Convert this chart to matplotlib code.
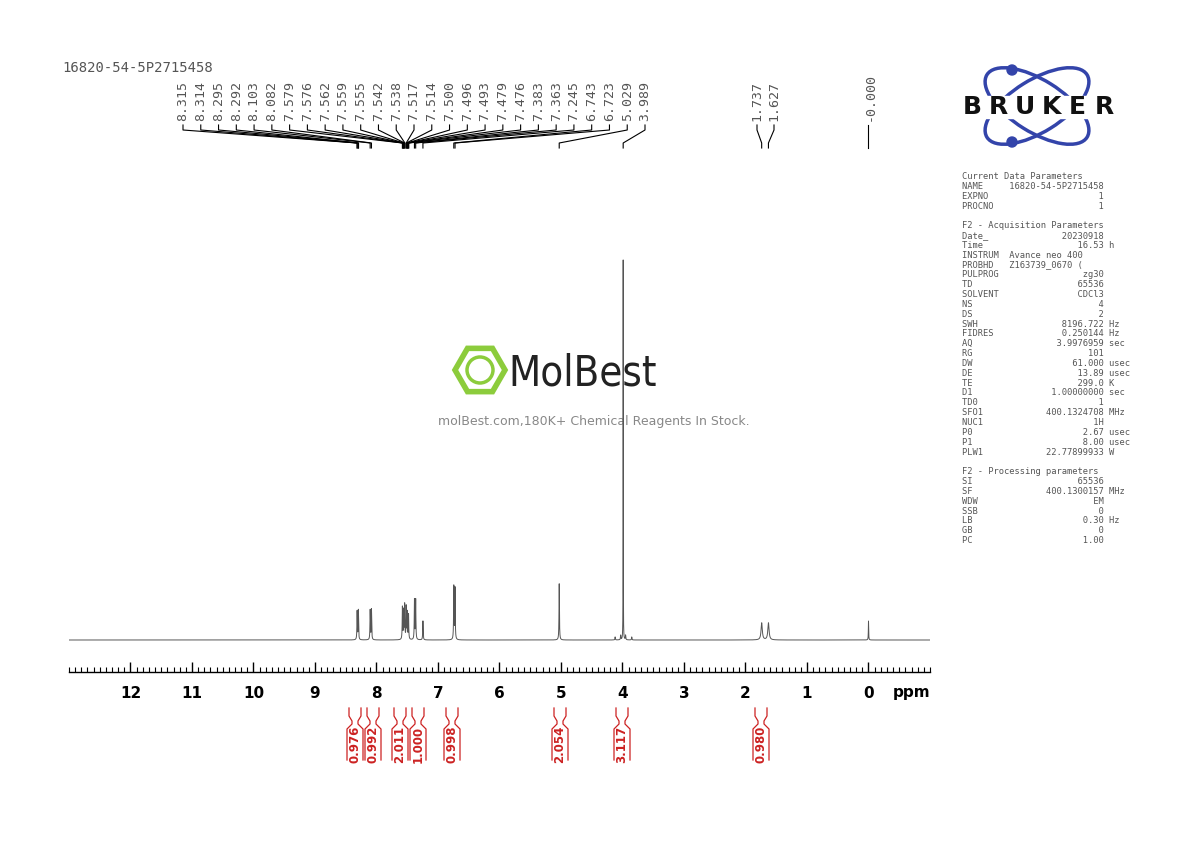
import numpy as np
import matplotlib
matplotlib.use("Agg")
import matplotlib.pyplot as plt
from matplotlib.patches import Ellipse, RegularPolygon, Circle

# ---- data ----
peak_ppm = [8.315, 8.295, 8.103, 8.082, 7.579, 7.559, 7.542, 7.517, 7.500, 7.479,
            7.383, 7.363, 7.245, 6.743, 6.723, 5.029, 3.989, 1.737, 1.627, 0.000,
            4.12, 3.85, 4.03, 3.95]
peak_h = [0.075, 0.078, 0.078, 0.080, 0.085, 0.075, 0.09, 0.085, 0.07, 0.065,
          0.105, 0.105, 0.05, 0.14, 0.135, 0.148, 1.0, 0.045, 0.045, 0.05,
          0.008, 0.008, 0.012, 0.012]
peak_w = [0.004]*16 + [0.0015] + [0.012, 0.012, 0.003] + [0.004]*4

shift_labels = ["8.315","8.314","8.295","8.292","8.103","8.082","7.579","7.576","7.562",
                "7.559","7.555","7.542","7.538","7.517","7.514","7.500","7.496","7.493",
                "7.479","7.476","7.383","7.363","7.245","6.743","6.723","5.029","3.989"]
shift_labels2 = ["1.737", "1.627"]
shift_label0 = "-0.000"

integ_vals = ["0.976", "0.992", "2.011", "1.000", "0.998", "2.054", "3.117", "0.980"]

params = """Current Data Parameters
NAME     16820-54-5P2715458
EXPNO                     1
PROCNO                    1

F2 - Acquisition Parameters
Date_              20230918
Time                  16.53 h
INSTRUM  Avance neo 400
PROBHD   Z163739_0670 (
PULPROG                zg30
TD                    65536
SOLVENT               CDCl3
NS                        4
DS                        2
SWH                8196.722 Hz
FIDRES             0.250144 Hz
AQ                3.9976959 sec
RG                      101
DW                   61.000 usec
DE                    13.89 usec
TE                    299.0 K
D1               1.00000000 sec
TD0                       1
SFO1            400.1324708 MHz
NUC1                     1H
P0                     2.67 usec
P1                     8.00 usec
PLW1            22.77899933 W

F2 - Processing parameters
SI                    65536
SF              400.1300157 MHz
WDW                      EM
SSB                       0
LB                     0.30 Hz
GB                        0
PC                     1.00"""

W, H = 1190, 842
fig = plt.figure(figsize=(W/100, H/100), dpi=100)
ov = fig.add_axes([0, 0, 1, 1]); ov.set_xlim(0, W); ov.set_ylim(H, 0); ov.axis("off")

ax = fig.add_axes([69/W, (H-672)/H, (930-69)/W, (672-250)/H])
ax.patch.set_alpha(0)
x = np.linspace(13, -1, 60000)
y = np.zeros_like(x)
for p, h, w in zip(peak_ppm, peak_h, peak_w):
    y += h / (1 + ((x - p)/w)**2)
top0 = 380
ax.plot(x, y, color="#555555", lw=0.7)
ax.set_xlim(13, -1)
ax.set_ylim(-32/top0, (640-250)/top0)
for s in ["top", "left", "right"]:
    ax.spines[s].set_visible(False)
ax.spines["bottom"].set_linewidth(1.0)
ax.set_yticks([])
ax.set_xticks(np.arange(0, 13, 1))
ax.set_xticks(np.arange(-1, 13.01, 0.1), minor=True)
ax.tick_params(axis="x", direction="in", length=7, width=1, labelsize=11, pad=10)
ax.tick_params(axis="x", which="minor", direction="in", length=3.5, width=0.8)
for t in ax.get_xticklabels():
    t.set_fontweight("bold")
ov.text(912, 693, "ppm", fontsize=11, fontweight="bold", ha="center", va="center")

def px(ppm):
    return 69 + (13 - ppm) * (930-69) / 14.0

mono = "DejaVu Sans Mono"
gray = "#555555"
ov.text(62, 68, "16820-54-5P2715458", fontsize=10, family=mono, color=gray, va="center")

lab_x = np.linspace(183, 645, len(shift_labels))
for lx, s in zip(lab_x, shift_labels):
    v = float(s)
    ov.text(lx, 121, s, rotation=90, fontsize=9.5, family=mono, color=gray, ha="center", va="bottom")
    tx = px(v)
    ov.plot([lx, lx, tx, tx], [125, 130, 143, 148], color="black", lw=0.8)
for lx, s in zip([757, 774], shift_labels2):
    v = float(s)
    ov.text(lx, 121, s, rotation=90, fontsize=9.5, family=mono, color=gray, ha="center", va="bottom")
    tx = px(v)
    ov.plot([lx, lx, tx, tx], [125, 130, 143, 148], color="black", lw=0.8)
ov.text(870, 121, shift_label0, rotation=90, fontsize=9.5, family=mono, color=gray, ha="center", va="bottom")
ov.plot([868, 868], [125, 148], color="black", lw=0.8)

red = "#cc2222"
ixs = [355, 373, 400, 418, 452, 560, 622, 761]
for ix, s in zip(ixs, integ_vals):
    ov.plot([ix-6, ix-6, ix-3, ix-3, ix-8, ix-8], [708, 716, 721, 724, 729, 760], color=red, lw=0.9)
    ov.plot([ix+6, ix+6, ix+3, ix+3, ix+8, ix+8], [708, 716, 721, 724, 729, 760], color=red, lw=0.9)
    ov.text(ix, 744, s, rotation=90, color=red, fontsize=8.5, fontweight="bold", ha="center", va="center")

blue = "#3344aa"
for ang in (32, -32):
    ov.add_patch(Ellipse((1037, 106), 118, 52, angle=ang, fill=False, ec=blue, lw=2.5))
ov.add_patch(Circle((1012, 70), 5, color=blue))
ov.add_patch(Circle((1012, 142), 5, color=blue))
ov.add_patch(plt.Rectangle((958, 96), 158, 22, color="white", zorder=2))
for i, ch in enumerate("BRUKER"):
    ov.text(972 + i*26.4, 107, ch, fontsize=18, fontweight="heavy", ha="center", va="center",
            color="#111111", zorder=3)

ov.text(962, 172, params, family=mono, fontsize=6.3, color=gray, va="top", linespacing=1.12)

green = "#8ccc3c"
ov.add_patch(RegularPolygon((480, 370), 6, radius=25, orientation=np.pi/6, fill=False, ec=green, lw=4))
ov.add_patch(Circle((480, 370), 13, fill=False, ec=green, lw=2.5))
ov.text(508, 374, "MolBest", fontsize=30, color="#222222", va="center", ha="left", fontstretch="condensed")
ov.text(594, 421, "molBest.com,180K+ Chemical Reagents In Stock.", fontsize=9, color="#888888", ha="center", va="center")

fig.savefig("out.png", dpi=100)
